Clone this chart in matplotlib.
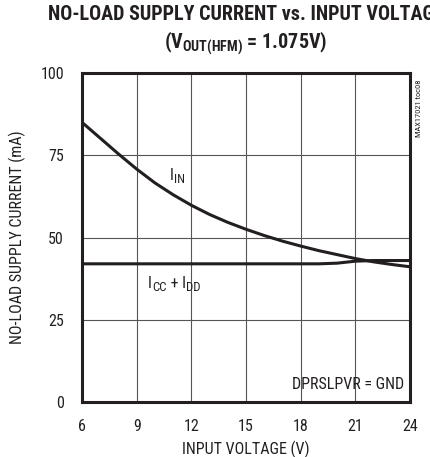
import matplotlib.pyplot as plt
from matplotlib import font_manager

# 入力電圧 (V)
vin = [6, 7, 8, 9, 10, 11, 12, 13, 14, 15, 16, 17, 18, 19, 20, 21, 22, 23, 24]
# I_IN (mA)
i_in = [85, 80.2, 75.4, 70.8, 66.6, 63.0, 59.8, 57.0, 54.6, 52.5, 50.6,
        48.9, 47.4, 46.0, 44.8, 43.6, 42.6, 41.8, 41.1]
# I_CC + I_DD (mA)
i_ccdd = [42, 42, 42, 42, 42, 42, 42, 42, 42, 42, 42,
          42, 42, 42, 42.2, 42.8, 43.0, 43.0, 43.0]

xticks = [6, 9, 12, 15, 18, 21, 24]
yticks = [0, 25, 50, 75, 100]

# 細い (condensed) フォントを探す
names = {f.name for f in font_manager.fontManager.ttflist}
narrow = 'DejaVu Sans'
for cand in ['Roboto Condensed', 'Archivo Narrow', 'Barlow Semi Condensed',
             'Asap Condensed', 'Liberation Sans Narrow']:
    if cand in names:
        narrow = cand
        break
plt.rcParams['font.family'] = [narrow, 'DejaVu Sans']
plt.rcParams['mathtext.fontset'] = 'custom'
plt.rcParams['mathtext.rm'] = narrow
plt.rcParams['mathtext.bf'] = narrow + ':bold'
plt.rcParams['mathtext.default'] = 'regular'

INK = '#231f20'
GRID = '#555555'
FS = 11.5


def sub_label(ax, x, y, parts):
    """本文と添字を交互に並べる (添字は少し小さく下げる)"""
    prev = None
    for i, s in enumerate(parts):
        is_sub = i % 2 == 1
        size = FS * 0.8 if is_sub else FS
        if prev is None:
            prev = ax.text(x, y, s, fontsize=size, color=INK, va='baseline')
        else:
            dy = -2.2 if is_sub else 2.2
            prev = ax.annotate(s, xy=(1, 0), xycoords=prev,
                               xytext=(0.3, dy), textcoords='offset points',
                               fontsize=size, color=INK, va='bottom')


fig = plt.figure(figsize=(4.3, 4.57), dpi=100)
ax = fig.add_axes([82 / 430, 55 / 457, 328 / 430, 329 / 457])

ax.plot(vin, i_in, color=INK, lw=2.2, solid_capstyle='butt', zorder=3)
ax.plot(vin, i_ccdd, color=INK, lw=2.2, solid_capstyle='butt', zorder=3)

ax.set_xlim(6, 24)
ax.set_ylim(0, 100)
ax.set_xticks(xticks)
ax.set_yticks(yticks)
ax.tick_params(length=0, labelsize=FS, colors=INK)
ax.tick_params(axis='x', pad=12)
ax.tick_params(axis='y', pad=13)
ax.grid(True, color=GRID, lw=0.8)
for s in ax.spines.values():
    s.set_linewidth(2.2)
    s.set_color(INK)

ax.set_xlabel('INPUT VOLTAGE (V)', fontsize=FS, color=INK, labelpad=5)
ax.set_ylabel('NO-LOAD SUPPLY CURRENT (mA)', fontsize=FS, color=INK, labelpad=10)

sub_label(ax, 10.8, 67.5, ['I', 'IN'])
sub_label(ax, 9.6, 34.7, ['I', 'CC', ' + I', 'DD'])
ax.text(23.7, 5.2, 'DPRSLPVR = GND', fontsize=FS, color=INK, ha='right', va='center')

fig.text(0.572, 1 - 15 / 457, 'NO-LOAD SUPPLY CURRENT vs. INPUT VOLTAGE',
         fontsize=14.5, fontweight='bold', color=INK, ha='center', va='center')
fig.text(0.572, 1 - 43 / 457, r'(V$_{\mathbf{OUT(HFM)}}$ = 1.075V)',
         fontsize=14.5, fontweight='bold', color=INK, ha='center', va='center')
fig.text(419 / 430, 1 - 108 / 457, 'MAX17021 toc08', fontsize=6, color=INK,
         rotation=90, ha='center', va='center')

fig.savefig('out.png', dpi=100)
